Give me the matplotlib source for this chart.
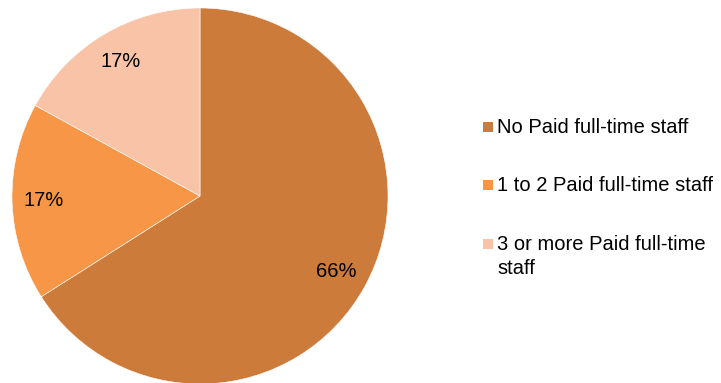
import matplotlib.pyplot as plt
from matplotlib.patches import Rectangle

labels = ["No Paid full-time staff", "1 to 2 Paid full-time staff",
          "3 or more Paid full-time\nstaff"]
shares = [66, 17, 17]
colors = ["#CC7B3A", "#F79646", "#F9C3A8"]

plt.rcParams['font.family'] = ['Liberation Sans', 'DejaVu Sans']

fig = plt.figure(figsize=(7.21, 3.83), dpi=100)
W, H = 721, 383

# pie axes: centre ~(200, 196) px, radius ~188 px
ax = fig.add_axes([12 / W, -1 / H, 376 / W, 376 / H])
wedges, texts, autotexts = ax.pie(
    shares, colors=colors, startangle=90, counterclock=False,
    autopct=lambda p: f"{p:.0f}%", pctdistance=0.83, radius=1,
    wedgeprops=dict(edgecolor="white", linewidth=0.4),
    textprops=dict(fontsize=14.5, color="black"))
ax.set_xlim(-1, 1)
ax.set_ylim(-1, 1)
ax.set_aspect("equal")
ax.axis("off")

# hand-placed legend so the wrapped label keeps its square on the first line
row_y = [127, 185, 244]
for lab, col, y in zip(labels, colors, row_y):
    fig.patches.append(Rectangle((483 / W, 1 - (y + 5) / H), 10 / W, 10 / H,
                                 transform=fig.transFigure, facecolor=col,
                                 edgecolor="none"))
    fig.text(497 / W, 1 - (y - 9) / H, lab, fontsize=14.5, va="top",
             ha="left", linespacing=1.3)

fig.savefig("out.png", dpi=100)
